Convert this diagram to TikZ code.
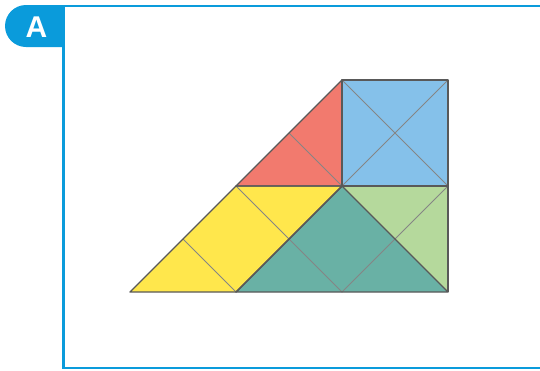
\documentclass[tikz,border=0pt]{standalone}
\usepackage{fontspec}
\setmainfont{Liberation Sans}
\begin{document}
\begin{tikzpicture}[x=1pt,y=-1pt,
  outl/.style={draw=black!65,line width=1.4pt,line join=round},
  inner/.style={draw=black!48,line width=1pt}]
\definecolor{framblue}{HTML}{0A9BDB}
\definecolor{cred}{HTML}{F27A6E}
\definecolor{cblue}{HTML}{85C1EA}
\definecolor{cyellow}{HTML}{FFE74C}
\definecolor{cteal}{HTML}{69B1A5}
\definecolor{cgreen}{HTML}{B5D99C}
\useasboundingbox (0,0) rectangle (540,370);
% frame
\draw[framblue,line width=2.6pt] (545,6) -- (63.5,6) -- (63.5,368) -- (545,368);
\fill[framblue] (26,5) -- (64.5,5) -- (64.5,47) -- (26,47) arc[start angle=90,end angle=270,radius=21] -- cycle;
\node[text=white,font=\bfseries\fontsize{30}{30}\selectfont] (lab) at (36.5,27) {A};
% geometry: origin (130,292), unit 106
\begin{scope}[shift={(130,292)},x=106pt,y=106pt]
\coordinate (O) at (0,0);
\coordinate (P11) at (1,1);
\coordinate (P22) at (2,2);
\coordinate (P21) at (2,1);
\coordinate (P32) at (3,2);
\coordinate (P31) at (3,1);
\coordinate (P30) at (3,0);
\coordinate (P20) at (2,0);
\coordinate (P10) at (1,0);
\coordinate (H1) at (1.5,1.5);
\coordinate (Y1) at (0.5,0.5);
% fills
\fill[cred] (P11) -- (P22) -- (P21) -- cycle;
\fill[cblue] (P21) rectangle (P32);
\fill[cyellow] (O) -- (P11) -- (P21) -- (P10) -- cycle;
\fill[cteal] (P10) -- (P21) -- (P30) -- cycle;
\fill[cgreen] (P21) -- (P31) -- (P30) -- cycle;
% inner lines
\draw[inner] (H1) -- (P21);
\draw[inner] (P21) -- (P32) (P22) -- (P31);
\draw[inner] (Y1) -- (P10);
\draw[inner] (P11) -- (P20);
\draw[inner] (P20) -- (P31);
% outlines
\draw[outl] (P11) -- (P22) -- (P21) -- cycle;
\draw[outl] (P21) rectangle (P32);
\draw[outl] (O) -- (P11) -- (P21) -- (P10) -- cycle;
\draw[outl] (P10) -- (P21) -- (P30) -- cycle;
\draw[outl] (P21) -- (P31) -- (P30);
\end{scope}
\end{tikzpicture}
\end{document}
